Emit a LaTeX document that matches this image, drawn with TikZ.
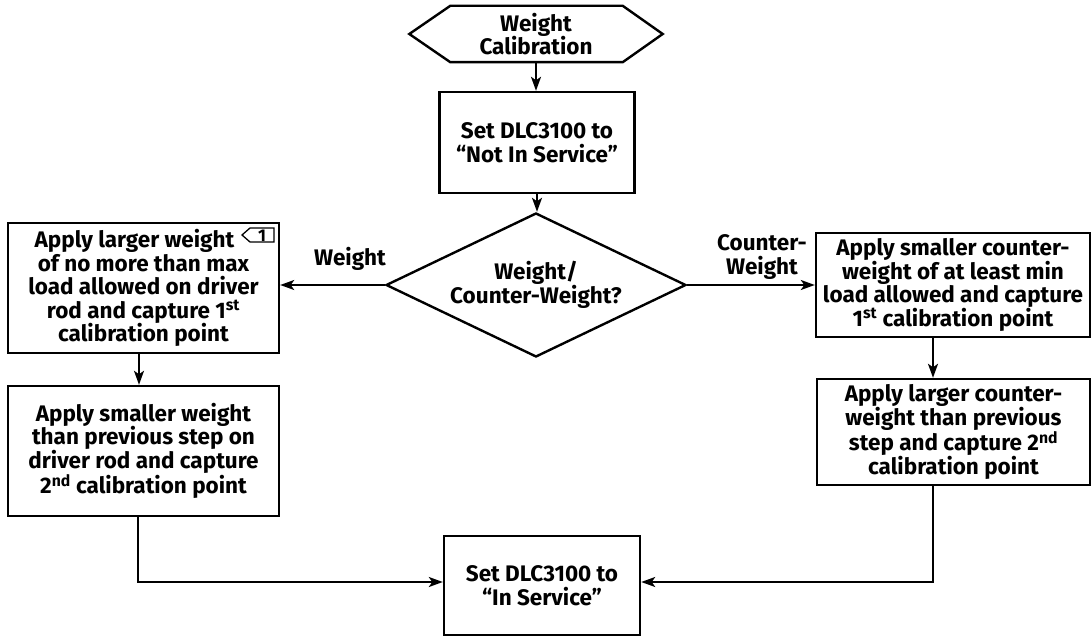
\documentclass[tikz,border=0pt]{standalone}
\usepackage{fontspec}
\setmainfont{Fira Sans}
\usetikzlibrary{shapes.geometric,arrows.meta,calc}
\tikzset{
  base/.style={font=\bfseries\fontsize{22.5}{23.6}\selectfont, align=center, inner sep=0pt},
  procbox/.style={base, draw, line width=2.4pt, rectangle},
  decbox/.style={base, draw, line width=2.4pt, diamond, aspect=2.083},
  arr/.style={line width=2pt, -{Stealth[length=14pt,width=10pt,inset=3.5pt]}},
  lbl/.style={base}
}
\begin{document}
\begin{tikzpicture}[x=1pt,y=-1pt]
\useasboundingbox (0,0) rectangle (1092,636);
% start hexagon
\node[base, minimum width=253pt, minimum height=56pt] (start) at (536,34) {Weight\\Calibration};
\draw[line width=2.4pt] (start.west) -- ([xshift=41pt]start.north west) -- ([xshift=-40pt]start.north east)
  -- (start.east) -- ([xshift=-40pt]start.south east) -- ([xshift=41pt]start.south west) -- cycle;
\node[procbox, minimum width=195pt, minimum height=101pt] (notin) at (537,142.5) {Set DLC3100 to\\``Not In Service''};
\node[decbox, minimum width=300pt, minimum height=144pt] (dec) at (536,285) {Weight/\\Counter-Weight?};
\node[procbox, minimum width=271pt, minimum height=130pt] (b1) at (143.5,288)
  {Apply larger weight\hspace*{18pt}\\of no more than max\\load allowed on driver\\rod and capture 1\textsuperscript{st}\\calibration point};
\node[procbox, minimum width=271pt, minimum height=130pt] (b2) at (143.5,451)
  {Apply smaller weight\\than previous step on\\driver rod and capture\\2\textsuperscript{nd} calibration point};
\node[procbox, minimum width=274pt, minimum height=104pt] (b3) at (953,285)
  {Apply smaller counter-\\weight of at least min\\load allowed and capture\\1\textsuperscript{st} calibration point};
\node[procbox, minimum width=273pt, minimum height=106pt] (b4) at (953.5,432)
  {Apply larger counter-\\weight than previous\\step and capture 2\textsuperscript{nd}\\calibration point};
\node[procbox, minimum width=196pt, minimum height=99pt] (inserv) at (542,585.5) {Set DLC3100 to\\``In Service''};
% labels
\node[lbl] (lw) at (350,259) {Weight};
\node[lbl] (lcw) at (762,257) {Counter-\\Weight};
% marker
\coordinate (mk) at (242,235);
\draw[line width=1.3pt] (mk) -- ++(8,-7) -- ++(24,0) -- ++(0,14) -- ++(-24,0) -- cycle;
\node[base, font=\bfseries\fontsize{17}{18}\selectfont] (mk1) at (262,236) {1};
% connectors
\draw[arr] (start.south) -- (start.south |- notin.north);
\draw[arr] (notin.south) -- (notin.south |- dec.north);
\draw[arr] (dec.west) -- (dec.west -| b1.east);
\draw[arr] (dec.east) -- (dec.east -| b3.west);
\draw[arr] ([xshift=-4.5pt]b1.south) -- ([xshift=-4.5pt]b1.south |- b2.north);
\draw[arr] ([xshift=-20pt]b3.south) -- ([xshift=-20pt]b3.south |- b4.north);
\draw[arr] ([xshift=-5.5pt]b2.south) |- ($(inserv.west)+(0,-3.5)$);
\draw[arr] ([xshift=-20.5pt]b4.south) |- ($(inserv.east)+(0,-3.5)$);
\end{tikzpicture}
\end{document}
